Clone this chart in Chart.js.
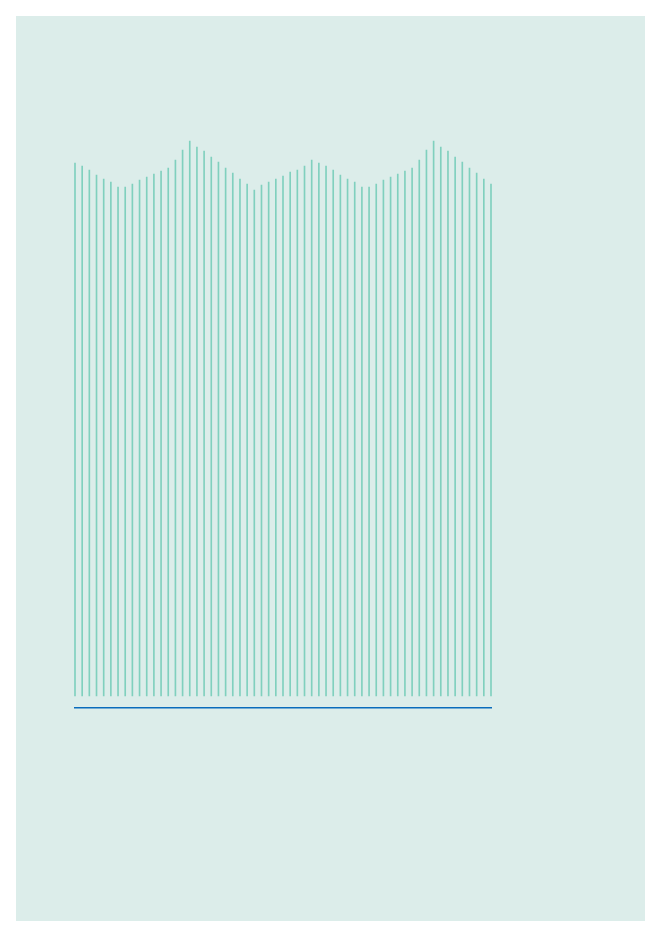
<!DOCTYPE html>
<html>
<head>
<meta charset="utf-8">
<script src="https://cdn.jsdelivr.net/npm/chart.js@4/dist/chart.umd.min.js"></script>
<style>
	body { margin: 0; background: #ffffff; }
	#panel { position: absolute; left: 16px; top: 16px; width: 629px; height: 905px; background: #dcedea; }
	#chart { position: absolute; left: 0; top: 0; }
</style>
</head>
<body>
<div id="panel"></div>
<canvas id="chart" width="661" height="937"></canvas>
<script>
// one value per bar (bar height above the base)
var labels = [];
for (var i = 1; i <= 59; i++) labels.push(String(i));

var values = [
	533, 530, 526, 521, 517, 514, 509, 509, 512, 516,
	519, 522, 525, 528, 536, 546, 555, 549, 545, 539,
	534, 528, 523, 517, 512, 506, 511, 514, 517, 520,
	524, 526, 530, 536, 533, 530, 526, 521, 517, 514,
	509, 509, 512, 516, 519, 522, 525, 528, 536, 546,
	555, 549, 545, 539, 534, 528, 523, 517, 512
];

var yMin = -12;
var yMax = 566;

window.addEventListener('load', function(event){
	var context = document.getElementById('chart').getContext('2d');
	var chart = new Chart(context, {
		type: 'bar',
		data: {
			labels: labels,
			datasets: [{
				data: values,
				backgroundColor: "#80d0be",
				barThickness: 1,
				clip: false
			}]
		},
		options: {
			responsive: false,
			animation: false,
			layout: { padding: { left: 75, right: 170, top: 130, bottom: 229 } },
			plugins: {
				legend: { display: false },
				tooltip: { enabled: false }
			},
			scales: {
				x: {
					offset: false,
					grid: { display: false, drawTicks: false },
					ticks: { display: false },
					border: { display: true, color: "#0a6cbc", width: 1.5 }
				},
				y: {
					display: false,
					min: yMin,
					max: yMax
				}
			}
		}
	});
});
</script>
</body>
</html>
